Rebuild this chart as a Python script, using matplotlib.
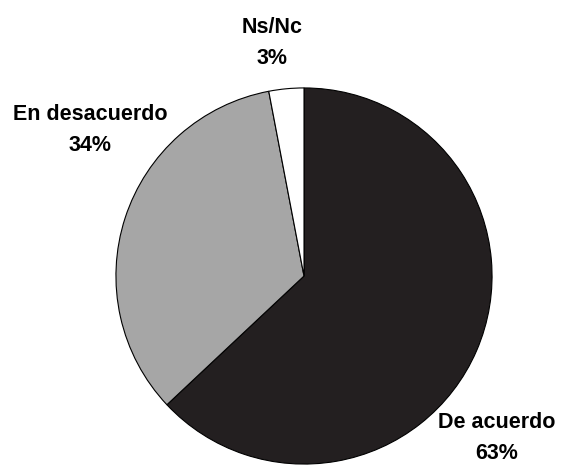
import matplotlib
matplotlib.use("Agg")
import matplotlib.pyplot as plt
from matplotlib import font_manager

labels = ["De acuerdo", "En desacuerdo", "Ns/Nc"]
values = [63, 34, 3]
colors = ["#231f20", "#a6a6a6", "#ffffff"]

names = {f.name for f in font_manager.fontManager.ttflist}
fam = "Liberation Sans Narrow" if "Liberation Sans Narrow" in names else "Liberation Sans"

W, H = 566, 468
fig = plt.figure(figsize=(W / 100, H / 100), dpi=100)
cx, cy, r = 304, 276, 189
ax = fig.add_axes([(cx - r) / W, (H - cy - r) / H, 2 * r / W, 2 * r / H])
ax.pie(values, colors=colors, startangle=90, counterclock=False,
       wedgeprops=dict(edgecolor="black", linewidth=0.8))
ax.set_xlim(-1.005, 1.005)
ax.set_ylim(-1.005, 1.005)
ax.set_aspect("equal")

pos = {"De acuerdo": (497, 438), "En desacuerdo": (90, 130), "Ns/Nc": (272, 43)}
for lab, v in zip(labels, values):
    x, y = pos[lab]
    fig.text(x / W, 1 - y / H, f"{lab}\n{v}%", ha="center", va="center",
             fontsize=15.5, fontweight="bold", family=[fam, "DejaVu Sans"],
             linespacing=1.6)

fig.savefig("out.png", dpi=100)
